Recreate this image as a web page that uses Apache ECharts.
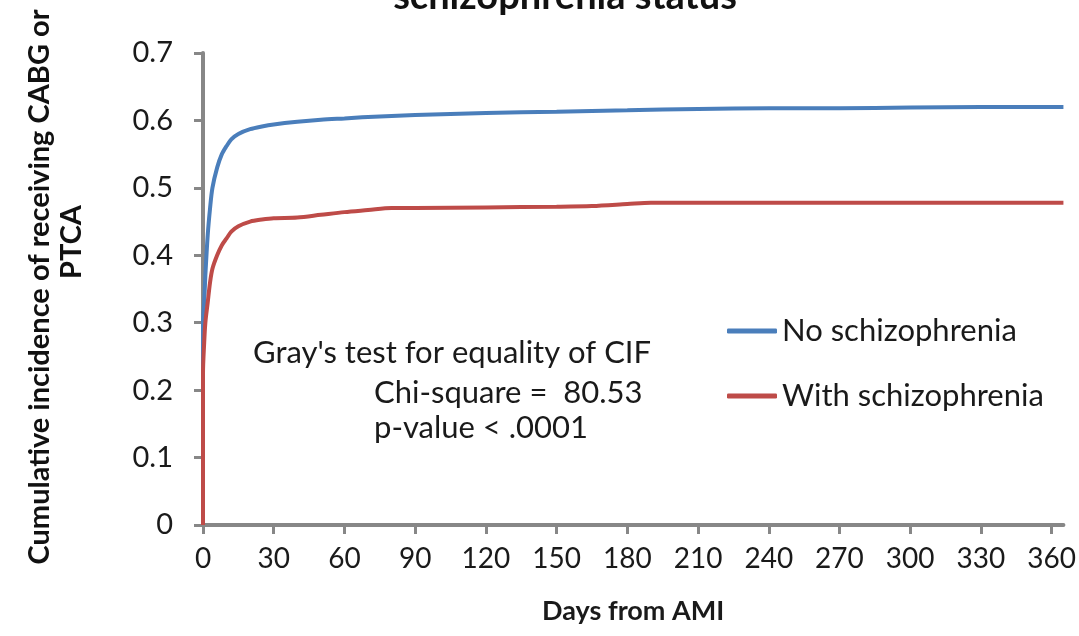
<!DOCTYPE html>
<html>
<head>
<meta charset="utf-8">
<script src="https://cdn.jsdelivr.net/npm/echarts@6/dist/echarts.min.js"></script>
<style>
  html, body { margin: 0; padding: 0; background: #fff; }
  #chart { width: 1079px; height: 636px; }
</style>
</head>
<body>
<div id="chart"></div>
<script>
// days from AMI and cumulative incidence
const noSchizDays = [0, 0, 0.5, 1, 2, 3, 4, 6, 8, 10, 12, 15, 20, 25, 30, 40, 50, 60, 75, 90, 120, 150, 180, 210, 240, 270, 300, 330, 365]
const noSchizCif = [0, 0.30, 0.33, 0.37, 0.43, 0.47, 0.50, 0.53, 0.55, 0.562, 0.572, 0.58, 0.587, 0.591, 0.594, 0.598, 0.601, 0.603, 0.606, 0.608, 0.611, 0.613, 0.615, 0.617, 0.618, 0.618, 0.619, 0.62, 0.62]

const withSchizDays = [0, 0, 0.5, 1, 2, 3, 4, 6, 8, 10, 12, 15, 20, 25, 30, 40, 50, 60, 70, 80, 90, 120, 150, 165, 180, 190, 210, 240, 300, 365]
const withSchizCif = [0, 0.225, 0.27, 0.30, 0.33, 0.36, 0.38, 0.40, 0.415, 0.425, 0.435, 0.443, 0.45, 0.453, 0.455, 0.456, 0.46, 0.464, 0.467, 0.47, 0.47, 0.471, 0.472, 0.473, 0.476, 0.478, 0.478, 0.478, 0.478, 0.478]

const xTicks = [0, 30, 60, 90, 120, 150, 180, 210, 240, 270, 300, 330, 360]
const seriesNames = ['No schizophrenia', 'With schizophrenia']
const annotation = ["Gray's test for equality of CIF", 'Chi-square =  80.53', 'p-value < .0001']

const FONT = 'Lato'
const axisGray = '#878787'

const chart = echarts.init(document.getElementById('chart'))

const pairs = (xs, ys) => xs.map((x, i) => [x, ys[i]])

const option = {
  animation: false,
  grid: { left: 203, right: 14, top: 53, bottom: 111 },
  legend: {
    orient: 'vertical',
    left: 727,
    top: 315,
    padding: 0,
    itemGap: 33,
    itemWidth: 50,
    itemHeight: 5,
    icon: 'roundRect',
    textStyle: { fontFamily: FONT, fontSize: 31, color: '#1a1a1a', lineHeight: 32 },
    data: seriesNames
  },
  xAxis: {
    type: 'value',
    min: 0,
    max: 365,
    interval: 30,
    splitLine: { show: false },
    axisLine: { lineStyle: { color: axisGray, width: 4 } },
    axisTick: { customValues: xTicks, length: 9, lineStyle: { color: axisGray, width: 3 } },
    axisLabel: { customValues: xTicks, margin: 20, fontFamily: FONT, fontSize: 28, color: '#1a1a1a' },
    name: 'Days from AMI',
    nameLocation: 'middle',
    nameGap: 73,
    nameTextStyle: { fontFamily: FONT, fontSize: 27, fontWeight: 'bold', color: '#1a1a1a' }
  },
  yAxis: {
    type: 'value',
    min: 0,
    max: 0.7,
    interval: 0.1,
    splitLine: { show: false },
    axisLine: { show: true, lineStyle: { color: axisGray, width: 4 } },
    axisTick: { show: true, length: 9, lineStyle: { color: axisGray, width: 3 } },
    axisLabel: { margin: 30, fontFamily: FONT, fontSize: 29, color: '#1a1a1a' }
  },
  series: [
    {
      name: seriesNames[0],
      type: 'line',
      data: pairs(noSchizDays, noSchizCif),
      showSymbol: false,
      smooth: 0.3,
      lineStyle: { width: 4, color: '#4A7EBB' },
      itemStyle: { color: '#4A7EBB' }
    },
    {
      name: seriesNames[1],
      type: 'line',
      data: pairs(withSchizDays, withSchizCif),
      showSymbol: false,
      smooth: 0.3,
      lineStyle: { width: 4, color: '#BE4B48' },
      itemStyle: { color: '#BE4B48' }
    }
  ],
  graphic: [
    // title, mostly cut off above the picture
    {
      type: 'text',
      style: { x: 565, y: -3.5, text: 'schizophrenia status', textAlign: 'center', textVerticalAlign: 'middle', font: 'bold 38px Lato', fill: '#111' }
    },
    // y axis name, two lines
    {
      type: 'text',
      x: 40, y: 287, rotation: Math.PI / 2,
      style: { text: 'Cumulative incidence of receiving CABG or', textAlign: 'center', textVerticalAlign: 'middle', font: 'bold 29px Lato', fill: '#111' }
    },
    {
      type: 'text',
      x: 72, y: 242, rotation: Math.PI / 2,
      style: { text: 'PTCA', textAlign: 'center', textVerticalAlign: 'middle', font: 'bold 29px Lato', fill: '#111' }
    },
    {
      type: 'text',
      style: { x: 253, y: 353, text: annotation[0], textVerticalAlign: 'middle', font: '31px Lato', fill: '#1a1a1a' }
    },
    {
      type: 'text',
      style: { x: 374, y: 393, text: annotation[1], textVerticalAlign: 'middle', font: '31px Lato', fill: '#1a1a1a' }
    },
    {
      type: 'text',
      style: { x: 374, y: 428, text: annotation[2], textVerticalAlign: 'middle', font: '31px Lato', fill: '#1a1a1a' }
    }
  ]
}

chart.setOption(option)
</script>
</body>
</html>
